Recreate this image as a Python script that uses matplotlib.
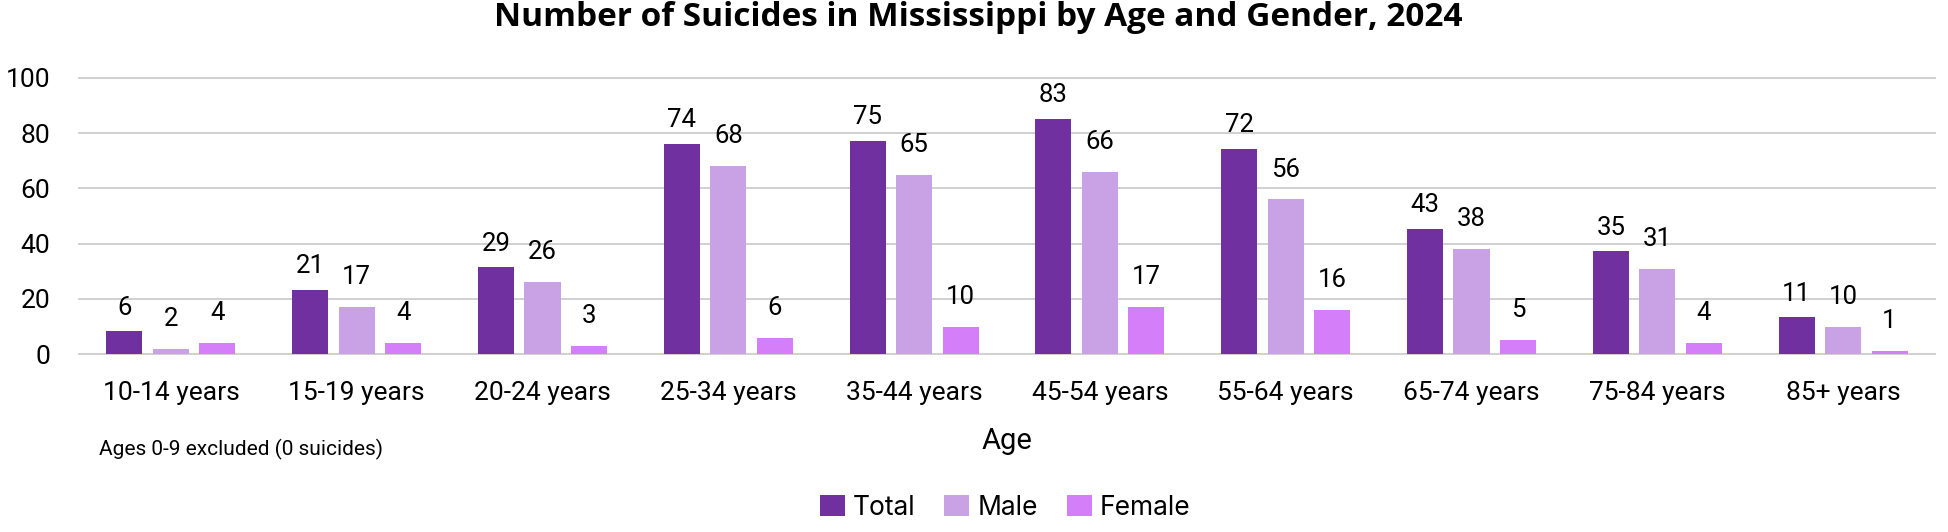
import matplotlib
matplotlib.use("Agg")
import numpy as np
from matplotlib import pyplot as plt
from matplotlib.patches import Patch

ages = ['10-14 years', '15-19 years', '20-24 years', '25-34 years', '35-44 years',
		'45-54 years', '55-64 years', '65-74 years', '75-84 years', '85+ years']
total = [6, 21, 29, 74, 75, 83, 72, 43, 35, 11]
male = [2, 17, 26, 68, 65, 66, 56, 38, 31, 10]
female = [4, 4, 3, 6, 10, 17, 16, 5, 4, 1]
# in the picture the Total bars stand a bit taller than their labels say
total_bar = [8.3, 23.1, 31.4, 76.2, 77.3, 85.1, 74.4, 45.3, 37.4, 13.4]

c_total = '#7030A0'
c_male = '#C9A2E6'
c_female = '#D57EFA'

plt.rcParams['font.family'] = ['Roboto', 'DejaVu Sans']

W, H = 1948, 532
fig = plt.figure(figsize=(W/100, H/100), dpi=100)
ax = fig.add_axes([78/W, 177/H, (1936-78)/W, 278/H])

x = np.arange(len(ages))
bw = 0.194
off = 0.25

ax.bar(x - off, total_bar, bw, color=c_total, zorder=2)
ax.bar(x, male, bw, color=c_male, zorder=2)
ax.bar(x + off, female, bw, color=c_female, zorder=2)

# data labels sit above the value they show
for xs, vals in ((x - off, total), (x, male), (x + off, female)):
	for xi, v in zip(xs, vals):
		ax.annotate(str(v), (xi, v), xytext=(0, 16.5), textcoords='offset points',
					ha='center', va='baseline', fontsize=18.5, color='black')

ax.set_xlim(-0.5, len(ages) - 0.5)
ax.set_ylim(-0.3, 100.3)
ax.set_yticks(range(0, 101, 20))
ax.set_xticks(x)
ax.set_xticklabels(ages)
ax.tick_params(axis='both', length=0, labelsize=19)
ax.tick_params(axis='y', pad=20)
ax.tick_params(axis='x', pad=19)
ax.grid(axis='y', color='#D0D0D0', linewidth=1.4, zorder=0)
ax.set_axisbelow(True)
for s in ax.spines.values():
	s.set_visible(False)

fig.text(978/W, 1 - 18/H, 'Number of Suicides in Mississippi by Age and Gender, 2024',
		 ha='center', va='center', fontsize=24, fontweight='bold', family=['Open Sans', 'DejaVu Sans'])
fig.text(1007/W, 1 - 441/H, 'Age', ha='center', va='center', fontsize=21)
fig.text(99/W, 1 - 449/H, 'Ages 0-9 excluded (0 suicides)', ha='left', va='center',
		 fontsize=15, family=['Liberation Sans Narrow', 'Roboto'])

handles = [Patch(facecolor=c_total, label='Total'),
		   Patch(facecolor=c_male, label='Male'),
		   Patch(facecolor=c_female, label='Female')]
fig.legend(handles=handles, loc='center', bbox_to_anchor=(1005/W, 1 - 508/H), ncol=3,
		   frameon=False, handlelength=0.95, handleheight=0.85,
		   handletextpad=0.3, columnspacing=1.1, prop={'family': ['Inter', 'Roboto'], 'size': 19})

fig.savefig('out.png', dpi=100)
